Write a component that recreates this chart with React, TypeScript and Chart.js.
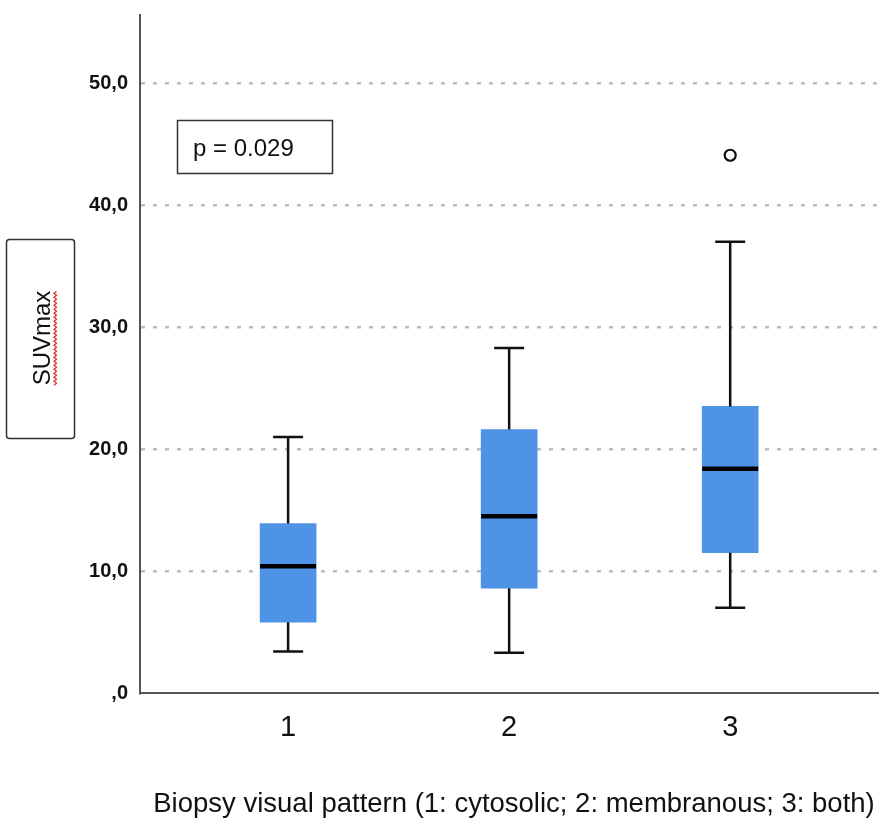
import React, { useEffect, useRef } from 'react';
import { Chart, registerables } from 'chart.js';

Chart.register(...registerables);

// Box plot values (SUVmax per biopsy pattern)
const groups = [1, 2, 3];
const groupLabels = ['1', '2', '3'];
const whiskerLow = [3.4, 3.3, 7.0];
const q1 = [5.8, 8.6, 11.5];
const median = [10.4, 14.5, 18.4];
const q3 = [13.9, 21.6, 23.5];
const whiskerHigh = [21.0, 28.3, 37.0];
const outlierGroups = [3];
const outlierValues = [44.1];

const yTicks = [0, 10, 20, 30, 40, 50];
const yTickLabels = [',0', '10,0', '20,0', '30,0', '40,0', '50,0'];

const xTitle = 'Biopsy visual pattern (1: cytosolic; 2: membranous; 3: both)';
const yTitle = 'SUVmax';
const pLabel = 'p = 0.029';

const FONT = '"Liberation Sans", Arial, sans-serif';

// whiskers, caps and medians, drawn through the chart's scales
const whiskerPlugin = {
  id: 'whiskers',
  afterDatasetsDraw(chart: any) {
    const { ctx } = chart;
    const x = chart.scales.x;
    const y = chart.scales.y;
    const half = 28;
    const cap = 15;
    ctx.save();
    groups.forEach((g, i) => {
      const cx = x.getPixelForValue(g);
      ctx.strokeStyle = '#111';
      ctx.lineWidth = 2.5;
      ctx.beginPath();
      ctx.moveTo(cx, y.getPixelForValue(q3[i]));
      ctx.lineTo(cx, y.getPixelForValue(whiskerHigh[i]));
      ctx.moveTo(cx, y.getPixelForValue(q1[i]));
      ctx.lineTo(cx, y.getPixelForValue(whiskerLow[i]));
      ctx.moveTo(cx - cap, y.getPixelForValue(whiskerHigh[i]));
      ctx.lineTo(cx + cap, y.getPixelForValue(whiskerHigh[i]));
      ctx.moveTo(cx - cap, y.getPixelForValue(whiskerLow[i]));
      ctx.lineTo(cx + cap, y.getPixelForValue(whiskerLow[i]));
      ctx.stroke();
      ctx.lineWidth = 4.5;
      ctx.strokeStyle = '#000';
      ctx.beginPath();
      ctx.moveTo(cx - half, y.getPixelForValue(median[i]));
      ctx.lineTo(cx + half, y.getPixelForValue(median[i]));
      ctx.stroke();
    });
    ctx.restore();
  },
};

// framed labels and the axis title
const labelsPlugin = {
  id: 'labels',
  afterDraw(chart: any) {
    const { ctx } = chart;
    ctx.save();
    ctx.strokeStyle = '#333';
    ctx.lineWidth = 1.5;
    ctx.fillStyle = '#111';

    // p value box
    ctx.strokeRect(177.5, 120.5, 155, 53);
    ctx.font = `24px ${FONT}`;
    ctx.textAlign = 'left';
    ctx.textBaseline = 'alphabetic';
    ctx.fillText(pLabel, 193, 156);

    // y title box
    ctx.beginPath();
    ctx.roundRect(6.5, 239.5, 68, 199, 3);
    ctx.stroke();
    ctx.save();
    ctx.translate(50, 338);
    ctx.rotate(-Math.PI / 2);
    ctx.font = `24px ${FONT}`;
    ctx.textAlign = 'center';
    ctx.fillText(yTitle, 0, 0);
    const w = ctx.measureText(yTitle).width;
    // spell-check squiggle
    ctx.strokeStyle = '#e0302a';
    ctx.lineWidth = 1.3;
    ctx.beginPath();
    let k = 0;
    for (let t = -w / 2; t <= w / 2; t += 2) {
      const yy = 4 + (k % 2 === 0 ? 0 : 2.5);
      if (k === 0) ctx.moveTo(t, yy);
      else ctx.lineTo(t, yy);
      k++;
    }
    ctx.stroke();
    ctx.restore();

    // x title
    ctx.font = `27.5px ${FONT}`;
    ctx.textAlign = 'center';
    ctx.fillStyle = '#111';
    ctx.fillText(xTitle, 514, 812);
    ctx.restore();
  },
};

export default function App() {
  const canvasRef = useRef<HTMLCanvasElement | null>(null);
  const chartRef = useRef<Chart | null>(null);

  useEffect(() => {
    if (!canvasRef.current) return;
    if (chartRef.current) chartRef.current.destroy();

    chartRef.current = new Chart(canvasRef.current, {
      type: 'bar',
      data: {
        datasets: [
          {
            type: 'bar',
            data: groups.map((g, i) => ({ x: g, y: [q1[i], q3[i]] })) as any,
            backgroundColor: '#4f93e6',
            borderWidth: 0,
            barThickness: 56,
          },
          {
            type: 'scatter',
            data: outlierGroups.map((g, i) => ({ x: g, y: outlierValues[i] })),
            pointStyle: 'circle',
            pointRadius: 5.5,
            pointBorderWidth: 2.2,
            pointBorderColor: '#111',
            pointBackgroundColor: '#fff',
          } as any,
        ],
      },
      options: {
        animation: false,
        responsive: true,
        maintainAspectRatio: false,
        layout: { padding: { left: 0, top: 15, right: 7, bottom: 0 } },
        plugins: {
          legend: { display: false },
          tooltip: { enabled: false },
        },
        scales: {
          x: {
            type: 'linear',
            offset: false,
            min: 0.33,
            max: 3.67,
            afterBuildTicks: (scale: any) => {
              scale.ticks = groups.map((v) => ({ value: v }));
            },
            afterFit: (scale: any) => {
              scale.height = 133;
              scale.paddingLeft = 0;
              scale.paddingRight = 0;
            },
            grid: { display: false, drawTicks: false, offset: false },
            border: { display: true, color: '#555', width: 2 },
            ticks: {
              padding: 18,
              color: '#111',
              font: { family: FONT, size: 29 },
              callback: (v: any) => groupLabels[groups.indexOf(Number(v))] ?? '',
            },
          },
          y: {
            type: 'linear',
            min: 0,
            max: 55.6,
            afterBuildTicks: (scale: any) => {
              scale.ticks = yTicks.map((v) => ({ value: v }));
            },
            afterFit: (scale: any) => {
              scale.width = 140;
              scale.paddingTop = 0;
              scale.paddingBottom = 0;
            },
            grid: {
              drawTicks: false,
              lineWidth: 2.5,
              color: (c: any) => (c.tick && c.tick.value === 0 ? 'rgba(0,0,0,0)' : '#bdbdbd'),
            },
            border: { display: true, color: '#555', width: 2, dash: [4, 8] },
            ticks: {
              padding: 12,
              color: '#111',
              font: { family: FONT, size: 20, weight: 'bold' },
              callback: (v: any) => yTickLabels[yTicks.indexOf(Number(v))] ?? '',
            },
          },
        },
      },
      plugins: [whiskerPlugin, labelsPlugin],
    });

    return () => {
      if (chartRef.current) {
        chartRef.current.destroy();
        chartRef.current = null;
      }
    };
  }, []);

  return (
    <div style={{ position: 'absolute', left: 0, top: 0, width: 886, height: 826, background: '#fff' }}>
      <canvas ref={canvasRef} />
    </div>
  );
}
